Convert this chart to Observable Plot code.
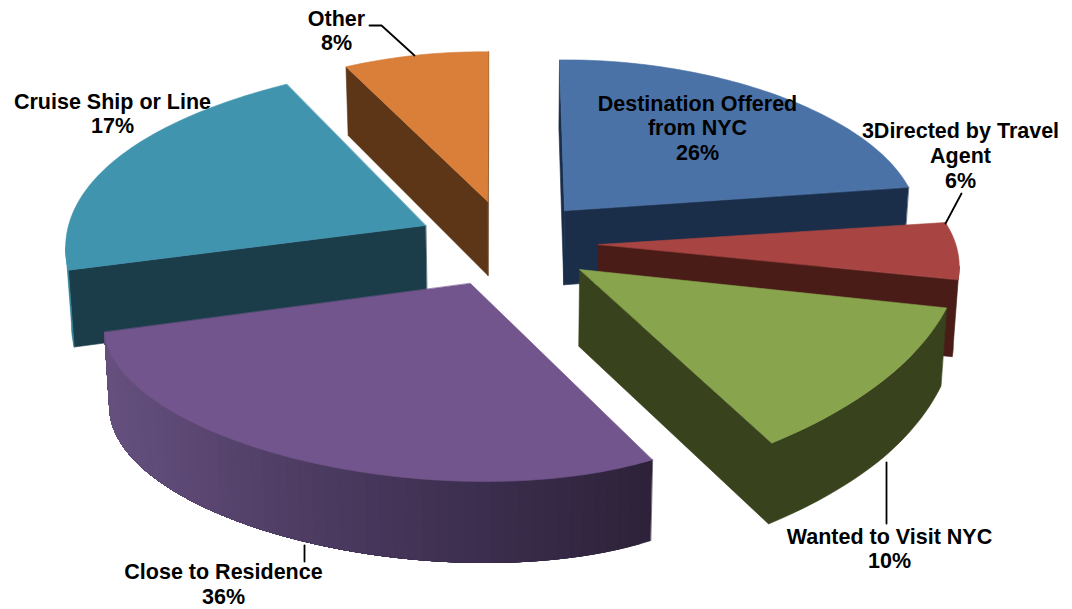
<!doctype html>
<html>
<head>
<meta charset="utf-8">
<style>
  html, body { margin: 0; background: #fff; }
  svg { display: block; }
</style>
<script src="https://cdn.jsdelivr.net/npm/d3@7"></script>
<script src="https://cdn.jsdelivr.net/npm/@observablehq/plot@0.6"></script>
</head>
<body>
<div id="chart"></div>
<script>
// Slices, clockwise from twelve o'clock.
const categories = ["Destination Offered\nfrom NYC", "3Directed by Travel\nAgent", "Wanted to Visit NYC", "Close to Residence", "Cruise Ship or Line", "Other"];
const shares = [26, 6, 10, 36, 17, 8];

// Face colours.
const topColors = ["#4a72a7", "#a84542", "#88a44d", "#72558c", "#4094ae", "#d97f3a"];
const wallColors = ["#1a2e4a", "#4a1c18", "#38421c", "#5a4672", "#1a3d49", "#5c3617"];
const rimColors = ["#1a2e4a", "#4a1c18", "#38421c", null, "#2f8096", "#5c3617"];
const rimRamp = ["#66517f", "#4e3c63", "#3c2e4e", "#2d2239"]; // lit left, shaded right

// Plane-to-page perspective: [a, b, c, d, e, f, g, h].
const camera = [364.70, -53.39, 522.52, -22.55, 155.52, 299.50, 0.00250, -0.09714];

// How each exploded slice sits on the plane.
const tips = [[0.116, -0.494], [0.211, -0.282], [0.157, -0.148], [-0.147, -0.109], [-0.283, -0.457], [-0.107, -0.577]];
const hubs = [[0.251, -0.618], [0.245, -0.117], [-0.167, -0.397], [-0.270, 0.185], [0.403, -0.174], [-0.251, -0.565]];
const turns = [-0.026, -0.202, 0.011, -0.018, -0.106, 0.148];
const reaches = [0.733, 0.967, 1.451, 0.621, 1.826, 1.011];
const spreads = [0.982, 0.885, 1.323, 0.946, 1.231, 0.933];

// Back-to-front paint order.
const paintOrder = [5, 4, 0, 1, 2, 3];

// Label and leader placement on the page.
const labelX = [697, 960, 889, 223, 112, 336];
const labelY = [127, 154.5, 547.5, 583.3, 112.5, 29.5];
const leaders = [
  [[369, 25], [381, 25], [414, 55]],
  [[961, 193], [945, 223]],
  [[886, 462], [886, 523]],
  [[304, 545], [304, 561]]
];

const project = ([u, v]) => {
  const [a, b, c, d, e, f, g, h] = camera;
  const w = g * u + h * v + 1;
  return [(a * u + b * v + c) / w, (d * u + e * v + f) / w];
};
const direction = (t) => [Math.sin(t), -Math.cos(t)];

// Thickness grows toward the viewer; walls lean to a vanishing point far below.
const drop = ([x, y]) => [x - (x - 510) * 0.013, y + Math.min(81, 66 + 0.04 * y)];

const total = d3.sum(shares);
const ends = d3.cumsum(shares).map((s) => (s / total) * 2 * Math.PI);

function sliceOutline(i) {
  const a1 = ends[i];
  const a0 = a1 - (shares[i] / total) * 2 * Math.PI;
  const mid = (a0 + a1) / 2;
  const along = direction(mid + turns[i]);
  const across = direction(mid + turns[i] + Math.PI / 2);
  const steps = Math.ceil(shares[i] * 3);
  const arc = d3.range(steps + 1).map((k) => {
    const t = a0 + ((a1 - a0) * k) / steps;
    const p = reaches[i] * Math.cos(t - mid);
    const q = spreads[i] * Math.sin(t - mid);
    return project([hubs[i][0] + p * along[0] + q * across[0], hubs[i][1] + p * along[1] + q * across[1]]);
  });
  return { tip: project(tips[i]), arc };
}

const rimShade = d3.scaleLinear().domain([100, 300, 480, 650]).range(rimRamp).interpolate(d3.interpolateRgb).clamp(true);

// One row per polygon corner, grouped by face.
const rows = [];
let faceId = 0;
const addFace = (points, color) => {
  faceId++;
  for (const [x, y] of points) rows.push({ x, y, face: faceId, color });
};
const extrude = (run) => [...run, ...run.slice().reverse().map(drop)];

// The part of the arc that faces the viewer: clockwise edges running leftward.
function frontRun(arc) {
  const first = arc.findIndex((p, k) => k + 1 < arc.length && arc[k + 1][0] < p[0]);
  if (first < 0) return [];
  let last = first;
  while (last + 1 < arc.length && arc[last + 1][0] < arc[last][0]) last++;
  return arc.slice(first, last + 1);
}

for (const i of paintOrder) {
  const { tip, arc } = sliceOutline(i);
  const close = arc[arc.length - 1];
  const run = frontRun(arc);
  const closingWall = tip[0] < close[0];
  // A rim in the wall's colour continues into the closing wall as one face.
  const joined = closingWall && rimColors[i] === wallColors[i] && run[run.length - 1] === close;
  if (arc[0][0] < tip[0]) addFace(extrude([tip, arc[0]]), wallColors[i]);
  if (closingWall && !joined) addFace(extrude([close, tip]), wallColors[i]);
  if (run.length) {
    if (rimColors[i]) {
      addFace(extrude(joined ? [...run, tip] : run), rimColors[i]);
    } else {
      // Shaded rim: each band covers the rest of the run, so bands leave no gaps.
      const bandSize = 2;
      for (let k = 0; k + 1 < run.length; k += bandSize) {
        addFace(extrude(run.slice(k)), rimShade(run[Math.min(k + 1, run.length - 1)][0]));
      }
    }
  }
  addFace([tip, ...arc], topColors[i]);
}

const labels = categories.map((c, i) => ({ text: `${c}\n${shares[i]}%`, x: labelX[i], y: labelY[i] }));
const leaderRows = leaders.flatMap((path, id) => path.map(([x, y]) => ({ x, y, id })));

const chart = Plot.plot({
  width: 1072,
  height: 609,
  margin: 0,
  x: { domain: [0, 1072], range: [0, 1072], axis: null },
  y: { domain: [0, 609], range: [0, 609], axis: null },
  color: { type: "identity" },
  style: { background: "#fff" },
  marks: [
    Plot.line(rows, {
      x: "x", y: "y", z: "face",
      fill: "color", stroke: "color", strokeWidth: 0.6,
      curve: "linear-closed"
    }),
    Plot.line(leaderRows, { x: "x", y: "y", z: "id", stroke: "#000", strokeWidth: 1.8 }),
    Plot.text(labels, {
      x: "x", y: "y", text: "text",
      textAnchor: "middle", lineAnchor: "middle", lineHeight: 1.15,
      fontFamily: "Liberation Sans", fontWeight: "bold", fontSize: 21.5,
      fill: "#000"
    })
  ]
});
document.getElementById("chart").append(chart);
</script>
</body>
</html>
